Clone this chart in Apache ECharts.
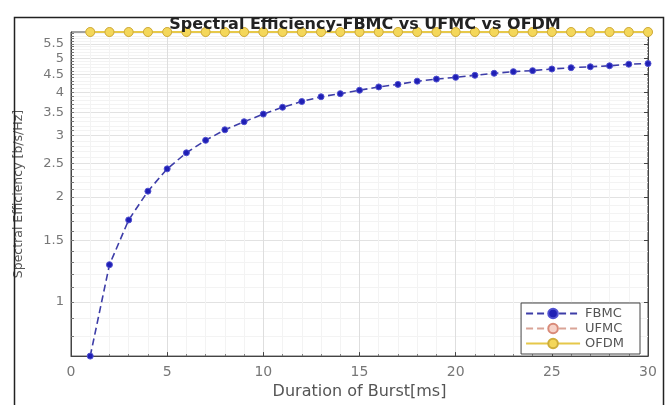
<!DOCTYPE html>
<html>
<head>
<meta charset="utf-8">
<script src="https://cdn.jsdelivr.net/npm/echarts@6/dist/echarts.min.js"></script>
<style>
  html, body { margin: 0; padding: 0; background: #fff; }
  #chart { width: 668px; height: 405px; }
</style>
</head>
<body>
<div id="chart"></div>
<script>
// burst durations in ms
const burstMs = [1,2,3,4,5,6,7,8,9,10,11,12,13,14,15,16,17,18,19,20,21,22,23,24,25,26,27,28,29,30];
// spectral efficiency, b/s/Hz
const fbmc = [0.70,1.28,1.72,2.08,2.41,2.68,2.91,3.12,3.29,3.46,3.62,3.76,3.88,3.96,4.05,
              4.14,4.21,4.30,4.36,4.41,4.47,4.53,4.58,4.61,4.66,4.70,4.73,4.76,4.81,4.83];
// UFMC sits under the OFDM curve at the top of the plot
const ufmc = [5.95,5.95,5.95,5.95,5.95,5.95,5.95,5.95,5.95,5.95,5.95,5.95,5.95,5.95,5.95,
              5.95,5.95,5.95,5.95,5.95,5.95,5.95,5.95,5.95,5.95,5.95,5.95,5.95,5.95,5.95];
const ofdm = [5.95,5.95,5.95,5.95,5.95,5.95,5.95,5.95,5.95,5.95,5.95,5.95,5.95,5.95,5.95,
              5.95,5.95,5.95,5.95,5.95,5.95,5.95,5.95,5.95,5.95,5.95,5.95,5.95,5.95,5.95];
const yTicks = [1, 1.5, 2, 2.5, 3, 3.5, 4, 4.5, 5, 5.5];
// small ticks every 0.1 along the left axis
const yMinorTicks = [];
for (let k = 8; k <= 59; k++) yMinorTicks.push(k / 10);

const pairs = (ys) => burstMs.map((x, i) => [x, ys[i]]);
const yMin = Math.min(...fbmc);
const yMax = Math.max(...ofdm);

const chart = echarts.init(document.getElementById('chart'));
const font = 'DejaVu Sans, sans-serif';

chart.setOption({
  backgroundColor: '#ffffff',
  animation: false,
  title: {
    text: 'Spectral Efficiency-FBMC vs UFMC vs OFDM',
    left: 360, top: 12, textAlign: 'center',
    textStyle: { fontFamily: font, fontSize: 16, fontWeight: 'bold', color: '#222' }
  },
  graphic: [{
    type: 'rect', left: 12, top: 15, silent: true, z: 100,
    shape: { width: 649, height: 400 },
    style: { fill: 'none', stroke: '#222', lineWidth: 1.5 }
  }],
  legend: {
    orient: 'vertical',
    right: 28, top: 303,
    backgroundColor: '#fff',
    borderColor: '#444', borderWidth: 1, borderRadius: 0,
    padding: [4, 16, 4, 4],
    itemGap: 2, itemWidth: 54, itemHeight: 12,
    textStyle: { fontFamily: font, fontSize: 13, color: '#555' },
    data: ['FBMC', 'UFMC', 'OFDM']
  },
  grid: {
    left: 71, right: 20, top: 32, bottom: 40,
    show: true, borderColor: '#444', borderWidth: 1
  },
  xAxis: {
    type: 'value', min: 0, max: 30, interval: 5,
    name: 'Duration of Burst[ms]', nameLocation: 'middle', nameGap: 25,
    nameTextStyle: { fontFamily: font, fontSize: 16, color: '#555' },
    axisLine: { lineStyle: { color: '#444' } },
    axisTick: { inside: true, length: 4, lineStyle: { color: '#444' } },
    minorTick: { show: true, splitNumber: 5, length: 2, lineStyle: { color: '#777' } },
    axisLabel: { fontFamily: font, fontSize: 14, color: '#777', margin: 9 },
    splitLine: { show: true, lineStyle: { color: '#dedede' } },
    minorSplitLine: { show: true, lineStyle: { color: '#f3f3f3' } }
  },
  yAxis: [
    {
      type: 'log', logBase: 10, min: yMin, max: yMax,
      name: 'Spectral Efficiency [b/s/Hz]', nameLocation: 'middle', nameGap: 46,
      nameTextStyle: { fontFamily: font, fontSize: 12.5, color: '#555' },
      axisLine: { lineStyle: { color: '#444' } },
      axisTick: { inside: true, length: 3, customValues: yMinorTicks, lineStyle: { color: '#777' } },
      axisLabel: { fontFamily: font, fontSize: 13, color: '#777', margin: 7, customValues: yTicks },
      splitLine: { show: true, lineStyle: { color: '#f3f3f3' } }
    },
    {
      type: 'log', logBase: 10, min: yMin, max: yMax, position: 'right',
      axisLine: { show: true, lineStyle: { color: '#444' } },
      axisTick: { show: true, inside: true, length: 4, customValues: yTicks, lineStyle: { color: '#444' } },
      axisLabel: { show: false },
      splitLine: { show: true, lineStyle: { color: '#e2e2e2' } }
    }
  ],
  series: [
    {
      name: 'FBMC', type: 'line', data: pairs(fbmc), z: 3,
      symbol: 'circle', symbolSize: 6, clip: false,
      lineStyle: { color: '#3d3da8', width: 1.6, type: [7, 4] },
      itemStyle: { color: '#1f1fb5', borderColor: '#5050d0', borderWidth: 1 }
    },
    {
      name: 'UFMC', type: 'line', data: pairs(ufmc), z: 2,
      symbol: 'circle', symbolSize: 8, clip: false,
      lineStyle: { color: '#d9a396', width: 1.6, type: [7, 4] },
      itemStyle: { color: '#f6d2c8', borderColor: '#d98a78', borderWidth: 1.2 }
    },
    {
      name: 'OFDM', type: 'line', data: pairs(ofdm), z: 4,
      symbol: 'circle', symbolSize: 9, clip: false,
      lineStyle: { color: '#e6c84a', width: 2 },
      itemStyle: { color: '#f4d75a', borderColor: '#cfae3a', borderWidth: 1 }
    }
  ]
});
</script>
</body>
</html>
